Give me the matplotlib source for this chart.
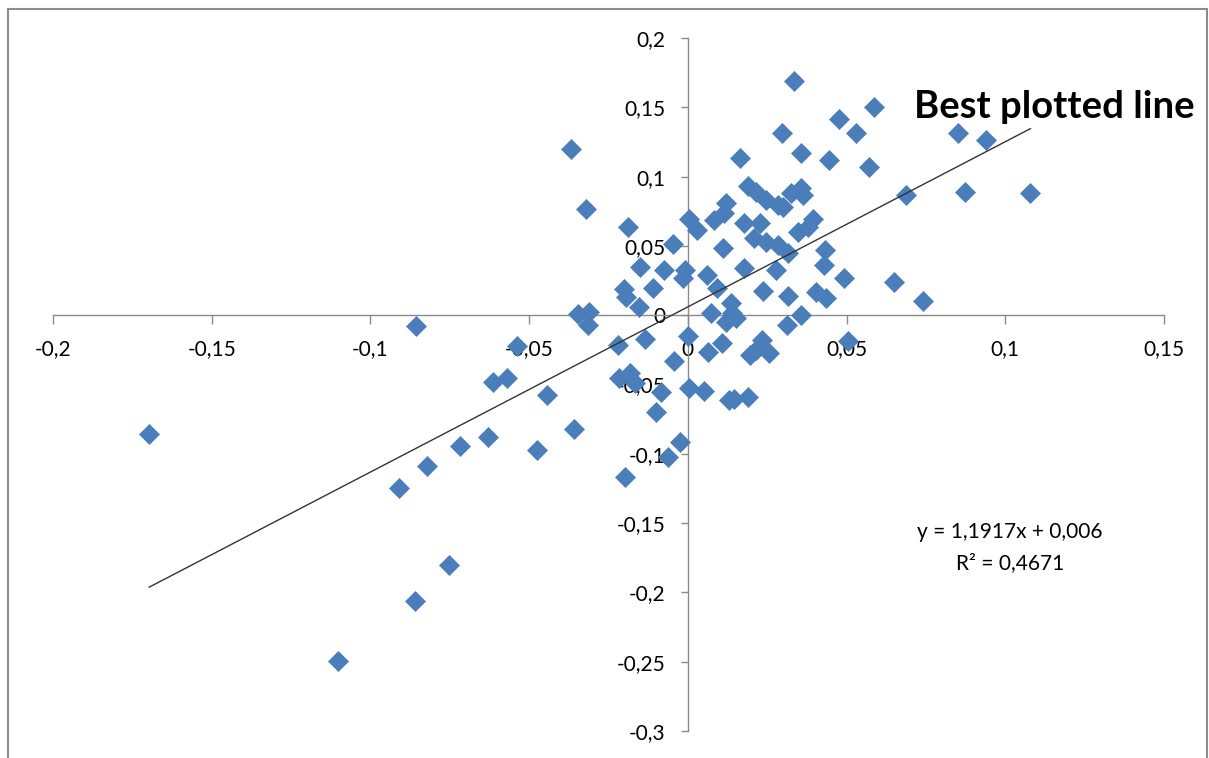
import matplotlib
matplotlib.use("Agg")
import matplotlib.pyplot as plt
from matplotlib.patches import Rectangle

# Scatter data
x_vals = [-0.1697, -0.1101, -0.0861, -0.0751, -0.0909, -0.0823, -0.0719, -0.0631,
          -0.0476, -0.0360, -0.0445, -0.0615, -0.0571, -0.0858, -0.0539, -0.0369,
          -0.0322, -0.0189, -0.0047, -0.0151, -0.0076, -0.0009, -0.0016, 0.0003,
          0.0028, -0.0202, -0.0196, -0.0110, -0.0155, -0.0347, -0.0312, -0.0315,
          -0.0221, -0.0136, 0.0000, 0.0063, -0.0044, -0.0218, -0.0183, -0.0167,
          -0.0085, 0.0003, 0.0050, -0.0101, -0.0025, -0.0063, -0.0199, 0.0129,
          0.0145, 0.0189, 0.0073, 0.0139, 0.0136, 0.0120, 0.0151, 0.0356,
          0.0312, 0.0107, 0.0233, 0.0196, 0.0215, 0.0256, 0.0505, 0.0435,
          0.0334, 0.0476, 0.0530, 0.0297, 0.0164, 0.0356, 0.0445, 0.0571,
          0.0189, 0.0215, 0.0246, 0.0284, 0.0300, 0.0325, 0.0356, 0.0363,
          0.0120, 0.0114, 0.0082, 0.0177, 0.0227, 0.0208, 0.0246, 0.0284,
          0.0315, 0.0347, 0.0394, 0.0379, 0.0432, 0.0429, 0.0492, 0.0110,
          0.0177, 0.0278, 0.0060, 0.0091, 0.0237, 0.0315, 0.0404, 0.0587,
          0.0852, 0.0940, 0.0688, 0.0874, 0.1079, 0.0650, 0.0741]
y_vals = [-0.0859, -0.2496, -0.2064, -0.1804, -0.1248, -0.1089, -0.0945, -0.0880,
          -0.0974, -0.0823, -0.0577, -0.0483, -0.0455, -0.0079, -0.0224, 0.1198,
          0.0765, 0.0635, 0.0512, 0.0346, 0.0325, 0.0325, 0.0267, 0.0693,
          0.0613, 0.0188, 0.0130, 0.0195, 0.0058, 0.0007, 0.0022, -0.0072,
          -0.0216, -0.0173, -0.0152, -0.0267, -0.0332, -0.0455, -0.0418, -0.0491,
          -0.0556, -0.0527, -0.0548, -0.0700, -0.0916, -0.1025, -0.1169, -0.0613,
          -0.0606, -0.0592, 0.0014, 0.0014, 0.0087, -0.0051, -0.0022, 0.0000,
          -0.0072, -0.0202, -0.0180, -0.0289, -0.0253, -0.0274, -0.0188, 0.0123,
          0.1688, 0.1414, 0.1313, 0.1313, 0.1133, 0.1169, 0.1118, 0.1068,
          0.0931, 0.0887, 0.0830, 0.0794, 0.0779, 0.0880, 0.0916, 0.0866,
          0.0808, 0.0736, 0.0685, 0.0664, 0.0664, 0.0556, 0.0527, 0.0505,
          0.0447, 0.0599, 0.0693, 0.0635, 0.0469, 0.0361, 0.0267, 0.0483,
          0.0339, 0.0325, 0.0289, 0.0195, 0.0173, 0.0137, 0.0166, 0.1501,
          0.1313, 0.1263, 0.0866, 0.0887, 0.0880, 0.0238, 0.0101]

# Trendline as reported on the chart
slope = 1.1917
intercept = 0.006
eq_label = "y = 1,1917x + 0,006"
r2_label = "R² = 0,4671"

x_ticks = [-0.2, -0.15, -0.1, -0.05, 0, 0.05, 0.1, 0.15]
x_tick_labels = ["-0,2", "-0,15", "-0,1", "-0,05", "0", "0,05", "0,1", "0,15"]
y_ticks = [-0.3, -0.25, -0.2, -0.15, -0.1, -0.05, 0, 0.05, 0.1, 0.15, 0.2]
y_tick_labels = ["-0,3", "-0,25", "-0,2", "-0,15", "-0,1", "-0,05", "0",
                 "0,05", "0,1", "0,15", "0,2"]

plt.rcParams['font.family'] = ['Lato', 'DejaVu Sans']
plt.rcParams['axes.unicode_minus'] = False

fig = plt.figure(figsize=(12.09, 7.58), dpi=100)
ax = fig.add_axes([53 / 1209, 1 - 731 / 758, (1164 - 53) / 1209, (731 - 38) / 758])

# Excel-style axes crossing at the origin
ax.spines['left'].set_position(('data', 0))
ax.spines['bottom'].set_position(('data', 0))
ax.spines['top'].set_visible(False)
ax.spines['right'].set_visible(False)
for s in ('left', 'bottom'):
    ax.spines[s].set_color('#8a8a8a')
    ax.spines[s].set_linewidth(1.0)

ax.set_xlim(-0.2, 0.15)
ax.set_ylim(-0.3, 0.2)
ax.set_xticks(x_ticks)
ax.set_xticklabels(x_tick_labels)
ax.set_yticks(y_ticks)
ax.set_yticklabels(y_tick_labels)
ax.tick_params(axis='x', direction='out', length=6.5, width=1, color='#8a8a8a',
               pad=11, labelsize=15, labelcolor='black')
ax.tick_params(axis='y', direction='out', length=5, width=1, color='#8a8a8a',
               pad=11, labelsize=15, labelcolor='black')

ax.plot(x_vals, y_vals, ls='none', marker='D', ms=10.5, color='#4A7EBB',
        mec='#4A7EBB', mew=0.5, zorder=3)

x_line = [min(x_vals), max(x_vals)]
y_line = [slope * v + intercept for v in x_line]
ax.plot(x_line, y_line, color='#333333', lw=1.0, zorder=4)

ax.text(0.0711, 0.142, "Best plotted line", fontsize=27.5, fontweight='bold',
        ha='left', va='baseline', color='black')
ax.text(0.1013, -0.1566, eq_label, fontsize=15, ha='center', va='center', color='black')
ax.text(0.1016, -0.179, r2_label, fontsize=15, ha='center', va='center', color='black')

# chart area border
fig.patches.append(Rectangle((7.5 / 1209, -0.05), (1207 - 7.5) / 1209, 1.05 - 9 / 758,
                             transform=fig.transFigure, fill=False,
                             edgecolor='#8c8c8c', linewidth=1.5))

fig.savefig("out.png", dpi=100)
